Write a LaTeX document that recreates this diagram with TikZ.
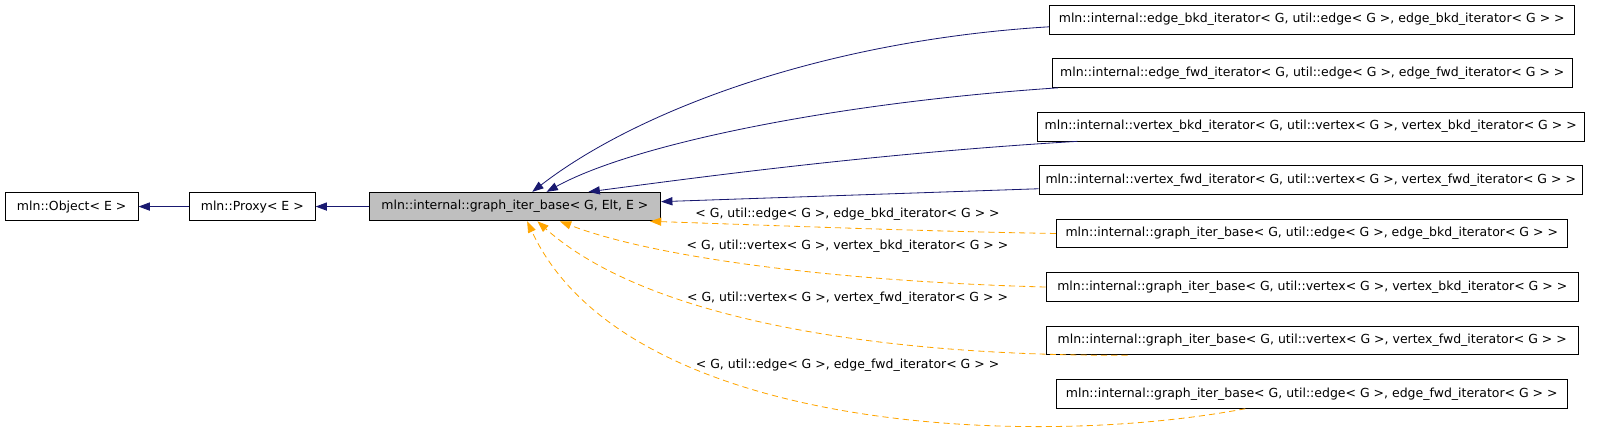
\documentclass[tikz,border=0pt]{standalone}
\usepackage{fontspec}
\setmainfont{DejaVu Sans}
\usetikzlibrary{arrows.meta}
\definecolor{edgeblue}{HTML}{191970}
\definecolor{tmplorange}{HTML}{FFA500}
\definecolor{basegray}{HTML}{BFBFBF}

\begin{document}
\begin{tikzpicture}[x=1pt, y=-1pt,
    cls/.style={draw, line width=0.8pt, fill=white, minimum height=28pt, inner sep=2pt, font=\fontsize{12.2}{14}\selectfont},
    inherit/.style={draw=edgeblue, line width=0.8pt, -{Triangle[length=11pt,width=8pt]}},
    tmpl/.style={draw=tmplorange, line width=0.8pt, dash pattern=on 6pt off 4pt, -{Triangle[length=11pt,width=8pt]}},
    tmpllabel/.style={font=\fontsize{12.2}{14}\selectfont, inner sep=1pt}]
    \useasboundingbox (0,0) rectangle (1568,426);

    % base chain
    \node[cls, minimum width=130pt] (obj) at (70,201.8) {mln::Object< E >};
    \node[cls, minimum width=123pt] (proxy) at (246.5,201.8) {mln::Proxy< E >};
    \node[cls, minimum width=285pt, fill=basegray] (gib) at (503,201.8) {mln::internal::graph\_iter\_base< G, Elt, E >};

    % derived iterators
    \node[cls, minimum width=513pt] (ebkd) at (1281.5,19.2) {mln::internal::edge\_bkd\_iterator< G, util::edge< G >, edge\_bkd\_iterator< G > >};
    \node[cls, minimum width=508pt] (efwd) at (1282,71.4) {mln::internal::edge\_fwd\_iterator< G, util::edge< G >, edge\_fwd\_iterator< G > >};
    \node[cls, minimum width=535pt] (vbkd) at (1280.5,123.7) {mln::internal::vertex\_bkd\_iterator< G, util::vertex< G >, vertex\_bkd\_iterator< G > >};
    \node[cls, minimum width=531pt] (vfwd) at (1280.5,175.9) {mln::internal::vertex\_fwd\_iterator< G, util::vertex< G >, vertex\_fwd\_iterator< G > >};

    % template instances
    \node[cls, minimum width=499pt] (gebkd) at (1281.5,228.1) {mln::internal::graph\_iter\_base< G, util::edge< G >, edge\_bkd\_iterator< G > >};
    \node[cls, minimum width=520pt] (gvbkd) at (1282,280.4) {mln::internal::graph\_iter\_base< G, util::vertex< G >, vertex\_bkd\_iterator< G > >};
    \node[cls, minimum width=520pt] (gvfwd) at (1282,332.7) {mln::internal::graph\_iter\_base< G, util::vertex< G >, vertex\_fwd\_iterator< G > >};
    \node[cls, minimum width=499pt] (gefwd) at (1281.5,384.9) {mln::internal::graph\_iter\_base< G, util::edge< G >, edge\_fwd\_iterator< G > >};

    % inheritance
    \draw[inherit] (proxy) -- (obj);
    \draw[inherit] (gib) -- (proxy);
    \draw[inherit] ([yshift=-7pt]ebkd.west) .. controls (800,40) and (620,110) .. ([xshift=17pt]gib.north);
    \draw[inherit] ([xshift=6pt]efwd.south west) .. controls (820,100) and (620,140) .. ([xshift=31pt]gib.north);
    \draw[inherit] ([xshift=40pt]vbkd.south west) .. controls (850,150) and (670,175) .. ([xshift=72pt]gib.north);
    \draw[inherit] ([yshift=-8.5pt]vfwd.west) -- ([yshift=4.8pt]gib.east);

    % template arguments
    \draw[tmpl] (gebkd.west) .. controls (900,226) and (750,220) .. ([xshift=132pt]gib.south);
    \draw[tmpl] (gvbkd.west) .. controls (820,275) and (640,252) .. ([xshift=44pt]gib.south);
    \draw[tmpl] ([xshift=80pt]gvfwd.south west) .. controls (850,348) and (630,310) .. ([xshift=22pt]gib.south);
    \draw[tmpl] ([xshift=185pt]gefwd.south west) .. controls (1000,440) and (610,420) .. ([xshift=12pt]gib.south);

    \node[tmpllabel] (lbl1) at (828,209) {< G, util::edge< G >, edge\_bkd\_iterator< G > >};
    \node[tmpllabel] (lbl2) at (828,241) {< G, util::vertex< G >, vertex\_bkd\_iterator< G > >};
    \node[tmpllabel] (lbl3) at (828,291) {< G, util::vertex< G >, vertex\_fwd\_iterator< G > >};
    \node[tmpllabel] (lbl4) at (828,357) {< G, util::edge< G >, edge\_fwd\_iterator< G > >};
\end{tikzpicture}
\end{document}
